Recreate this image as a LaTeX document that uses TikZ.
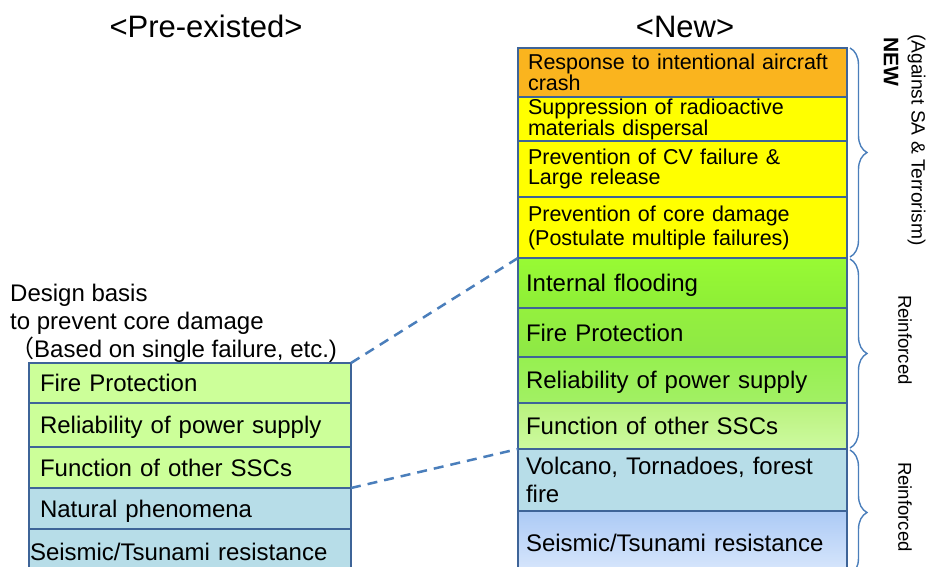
\documentclass[tikz,border=0pt]{standalone}
\usepackage{fontspec}
\setmainfont{Liberation Sans}
\newfontfamily\cjkfont{Noto Sans CJK JP}
\usetikzlibrary{decorations.pathreplacing}
\definecolor{bline}{RGB}{62,100,152}
\definecolor{dline}{RGB}{74,126,187}
\definecolor{orangebox}{RGB}{250,180,30}
\definecolor{yellowbox}{RGB}{255,255,0}
\definecolor{lgreen}{RGB}{204,255,153}
\definecolor{lblue}{RGB}{183,221,232}
\begin{document}
\begin{tikzpicture}[x=1pt,y=-1pt,
  rbox/.style={draw=bline, line width=2.5pt, outer sep=0pt, anchor=north west,
    inner xsep=10pt, inner ysep=0pt, text width=309pt, align=left},
  lbox/.style={draw=bline, line width=2.5pt, outer sep=0pt, anchor=north west,
    inner xsep=11pt, inner ysep=0pt, text width=300pt, align=left, text depth=0pt,
    font=\fontsize{24pt}{28pt}\selectfont},
  bigf/.style={font=\fontsize{24pt}{28pt}\selectfont, text depth=0pt},
  title/.style={font=\fontsize{31pt}{31pt}\selectfont, anchor=base, inner sep=0pt},
  note/.style={font=\fontsize{24pt}{28pt}\selectfont, anchor=base west, inner sep=0pt},
  vlbl/.style={rotate=-90, inner sep=0pt, font=\fontsize{18.6pt}{18.6pt}\selectfont},
  conn/.style={draw=dline, line width=2.5pt, dash pattern=on 10pt off 7pt},
  brc/.style={draw=dline, line width=1.4pt, decorate, decoration={brace, amplitude=17pt}}
]
\useasboundingbox (0,0) rectangle (929,567);
\clip (0,0) rectangle (929,567);

% titles
\node[title] (tpre) at (206,38) {<Pre-existed>};
\node[title] (tnew) at (685,38) {<New>};

% left description
\node[note] (d1) at (10,301) {Design basis};
\node[note] (d2) at (10,329) {to prevent core damage};
\node[note] (d3) at (10,357) {{\cjkfont （}Based on single failure, etc.)};

% left column
\node[lbox, fill=lgreen, minimum height=40pt] (l1) at (29,363) {Fire Protection};
\node[lbox, fill=lgreen, minimum height=44pt] (l2) at (29,403) {Reliability of power supply};
\node[lbox, fill=lgreen, minimum height=41pt] (l3) at (29,447) {Function of other SSCs};
\node[lbox, fill=lblue, minimum height=41pt] (l4) at (29,488) {Natural phenomena};
\node[lbox, fill=lblue, minimum height=46pt, inner xsep=1pt, text width=320pt] (l5) at (29,529) {Seismic/Tsunami resistance};

% right column
\node[rbox, fill=orangebox, minimum height=49pt, font=\fontsize{21.5pt}{20pt}\selectfont] (r1) at (518,48) {Response to intentional aircraft\\crash};
\node[rbox, fill=yellowbox, minimum height=44pt, font=\fontsize{21.5pt}{18.5pt}\selectfont] (r2) at (518,97) {Suppression of radioactive\\materials dispersal};
\node[rbox, fill=yellowbox, minimum height=56pt, font=\fontsize{21.5pt}{20pt}\selectfont] (r3) at (518,141) {Prevention of CV failure \&\\Large release};
\node[rbox, fill=yellowbox, minimum height=61pt, font=\fontsize{21.5pt}{24pt}\selectfont] (r4) at (518,197) {Prevention of core damage\\(Postulate multiple failures)};
\node[rbox, top color={rgb,255:red,152;green,250;blue,52}, bottom color={rgb,255:red,142;green,238;blue,55}, minimum height=50pt, bigf, inner xsep=8pt, text width=313pt] (r5) at (518,258) {Internal flooding};
\node[rbox, top color={rgb,255:red,148;green,240;blue,62}, bottom color={rgb,255:red,142;green,232;blue,70}, minimum height=49pt, bigf, inner xsep=8pt, text width=313pt] (r6) at (518,308) {Fire Protection};
\node[rbox, top color={rgb,255:red,150;green,240;blue,80}, bottom color={rgb,255:red,162;green,240;blue,100}, minimum height=46pt, bigf, inner xsep=8pt, text width=313pt] (r7) at (518,357) {Reliability of power supply};
\node[rbox, top color={rgb,255:red,185;green,242;blue,125}, bottom color={rgb,255:red,205;green,250;blue,160}, minimum height=46pt, bigf, inner xsep=8pt, text width=313pt] (r8) at (518,403) {Function of other SSCs};
\node[rbox, fill=lblue, minimum height=62pt, font=\fontsize{24pt}{28pt}\selectfont, inner xsep=8pt, text width=313pt] (r9) at (518,449) {Volcano, Tornadoes, forest\\fire};
\node[rbox, top color={rgb,255:red,172;green,202;blue,245}, bottom color={rgb,255:red,218;green,232;blue,252}, minimum height=64pt, bigf, inner xsep=8pt, text width=313pt] (r10) at (518,511) {Seismic/Tsunami resistance};

% dashed connectors
\draw[conn] (l1.north east) -- (r5.north west);
\draw[conn] (l3.south east) -- (r8.south west);

% braces
\draw[brc] ([xshift=3pt]r1.north east) -- ([xshift=3pt,yshift=1pt]r4.south east);
\draw[brc] ([xshift=3pt,yshift=-1pt]r5.north east) -- ([xshift=3pt,yshift=1pt]r8.south east);
\draw[brc] ([xshift=3pt,yshift=-1pt]r9.north east) -- ([xshift=3pt]r10.south east);

% vertical labels
\node[rotate=-90, inner sep=0pt, font=\bfseries\fontsize{21pt}{21pt}\selectfont] (lnew) at (891,61.5) {NEW};
\node[vlbl, font=\fontsize{19.2pt}{19.2pt}\selectfont] (lagainst) at (916.5,140) {(Against SA \& Terrorism)};
\node[vlbl] (lre1) at (905,340) {Reinforced};
\node[vlbl] (lre2) at (905,507) {Reinforced};
\end{tikzpicture}
\end{document}
